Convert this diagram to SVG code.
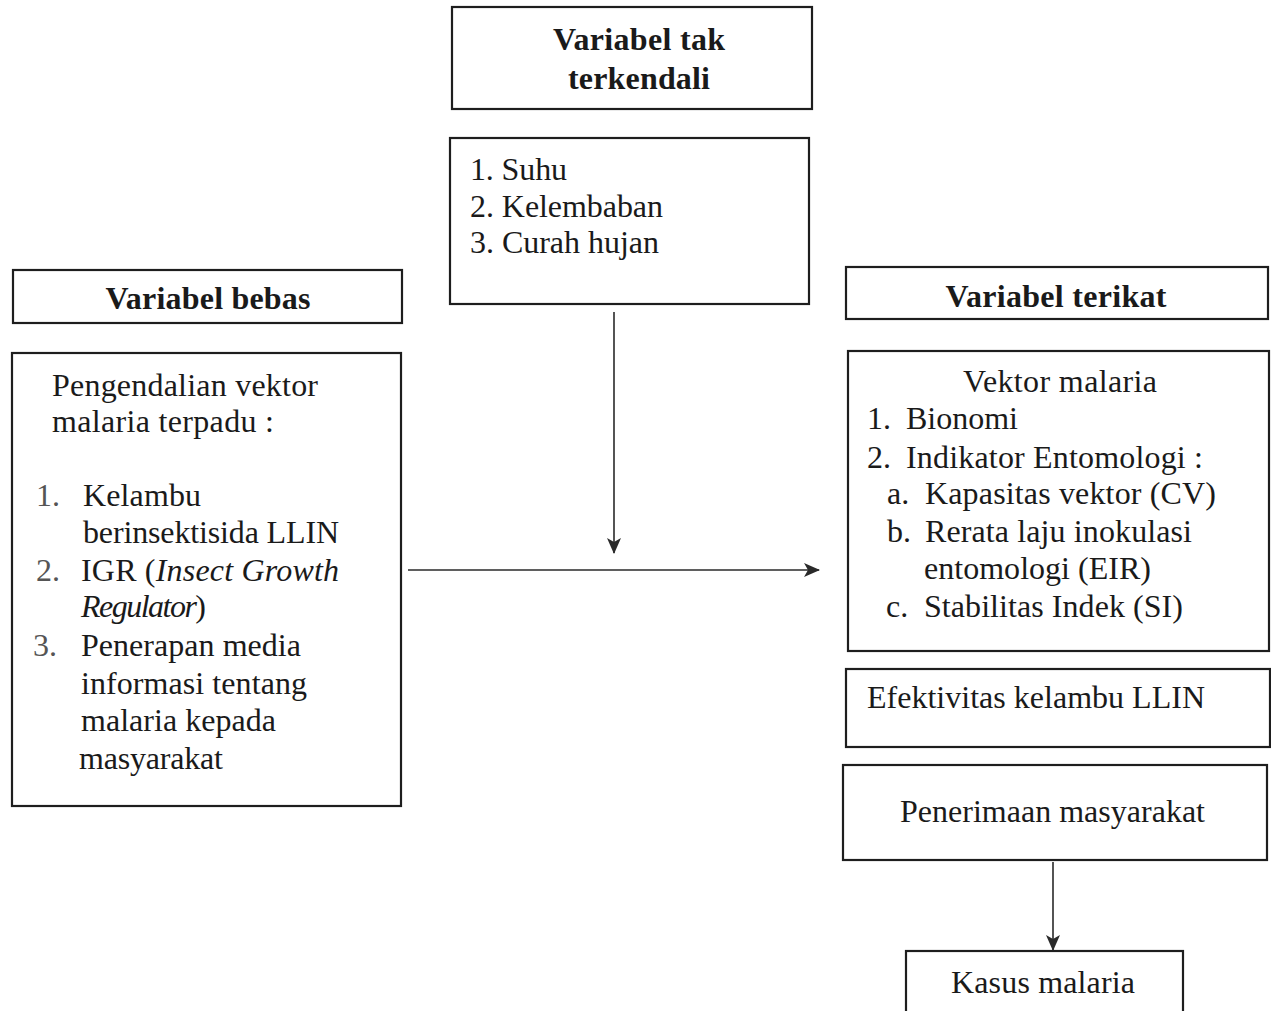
<svg xmlns="http://www.w3.org/2000/svg" width="1271" height="1011" viewBox="0 0 1271 1011">
<style>
.box{fill:#fff;stroke:#1e1e1e;stroke-width:2.2}
.t{font-family:"Liberation Serif","Times New Roman",serif;font-size:32px;fill:#1a1a1a}
.b{font-weight:bold;font-size:32px}
.n{fill:#555}
.c{stroke:#2a2a2a;stroke-width:1.6;fill:none}
</style>
<defs>
<marker id="ah" markerWidth="16" markerHeight="14" refX="15" refY="7" orient="auto" markerUnits="userSpaceOnUse">
<path d="M0,0 L16,7 L0,14 L4,7 Z" fill="#2a2a2a"/>
</marker>
</defs>
<rect width="1271" height="1011" fill="#fff"/>
<g id="tak-terkendali">
<rect class="box" x="452" y="7" width="360" height="102"/>
<text class="t b" x="639" y="50" text-anchor="middle" textLength="172">Variabel tak</text>
<text class="t b" x="639" y="89" text-anchor="middle" textLength="142">terkendali</text>
</g>
<g id="tak-terkendali-items">
<rect class="box" x="450" y="138" width="359" height="166"/>
<text class="t" x="470" y="180" textLength="97">1. Suhu</text>
<text class="t" x="470" y="217" textLength="193">2. Kelembaban</text>
<text class="t" x="470" y="253" textLength="189">3. Curah hujan</text>
</g>
<g id="bebas-header">
<rect class="box" x="13" y="270" width="389" height="53"/>
<text class="t b" x="208" y="309" text-anchor="middle" textLength="205">Variabel bebas</text>
</g>
<g id="bebas">
<rect class="box" x="12" y="353" width="389" height="453"/>
<text class="t" x="52" y="396" textLength="266">Pengendalian vektor</text>
<text class="t" x="52" y="432" textLength="222">malaria terpadu :</text>
<text class="t n" x="36" y="506">1.</text>
<text class="t" x="83" y="506" textLength="118">Kelambu</text>
<text class="t" x="83" y="543" textLength="256">berinsektisida LLIN</text>
<text class="t n" x="36" y="581">2.</text>
<text class="t" x="81" y="581" textLength="258">IGR (<tspan font-style="italic">Insect Growth</tspan></text>
<text class="t" x="81" y="617" textLength="125"><tspan font-style="italic">Regulator</tspan>)</text>
<text class="t n" x="33" y="656">3.</text>
<text class="t" x="81" y="656" textLength="220">Penerapan media</text>
<text class="t" x="81" y="694" textLength="226">informasi tentang</text>
<text class="t" x="81" y="731" textLength="195">malaria kepada</text>
<text class="t" x="79" y="769" textLength="144">masyarakat</text>
</g>
<g id="terikat-header">
<rect class="box" x="846" y="267" width="422" height="52"/>
<text class="t b" x="1056" y="307" text-anchor="middle" textLength="221">Variabel terikat</text>
</g>
<g id="terikat">
<rect class="box" x="848" y="351" width="421" height="300"/>
<text class="t" x="963" y="392" textLength="194">Vektor malaria</text>
<text class="t" x="867" y="429">1.</text>
<text class="t" x="906" y="429" textLength="112">Bionomi</text>
<text class="t" x="867" y="468">2.</text>
<text class="t" x="906" y="468" textLength="297">Indikator Entomologi :</text>
<text class="t" x="887" y="504">a.</text>
<text class="t" x="925" y="504" textLength="291">Kapasitas vektor (CV)</text>
<text class="t" x="887" y="542">b.</text>
<text class="t" x="925" y="542" textLength="267">Rerata laju inokulasi</text>
<text class="t" x="924" y="579" textLength="227">entomologi (EIR)</text>
<text class="t" x="886" y="617">c.</text>
<text class="t" x="924" y="617" textLength="259">Stabilitas Indek (SI)</text>
</g>
<g id="efektivitas">
<rect class="box" x="846" y="669" width="424" height="78"/>
<text class="t" x="867" y="708" textLength="338">Efektivitas kelambu LLIN</text>
</g>
<g id="penerimaan">
<rect class="box" x="843" y="765" width="424" height="95"/>
<text class="t" x="900" y="822" textLength="305">Penerimaan masyarakat</text>
</g>
<g id="kasus">
<rect class="box" x="906" y="951" width="277" height="70"/>
<text class="t" x="951" y="993" textLength="184">Kasus malaria</text>
</g>
<g id="connectors">
<line class="c" x1="614" y1="312" x2="614" y2="553" marker-end="url(#ah)"/>
<line class="c" x1="408" y1="570" x2="819" y2="570" marker-end="url(#ah)"/>
<line class="c" x1="1053" y1="862" x2="1053" y2="950" marker-end="url(#ah)"/>
</g>
</svg>
